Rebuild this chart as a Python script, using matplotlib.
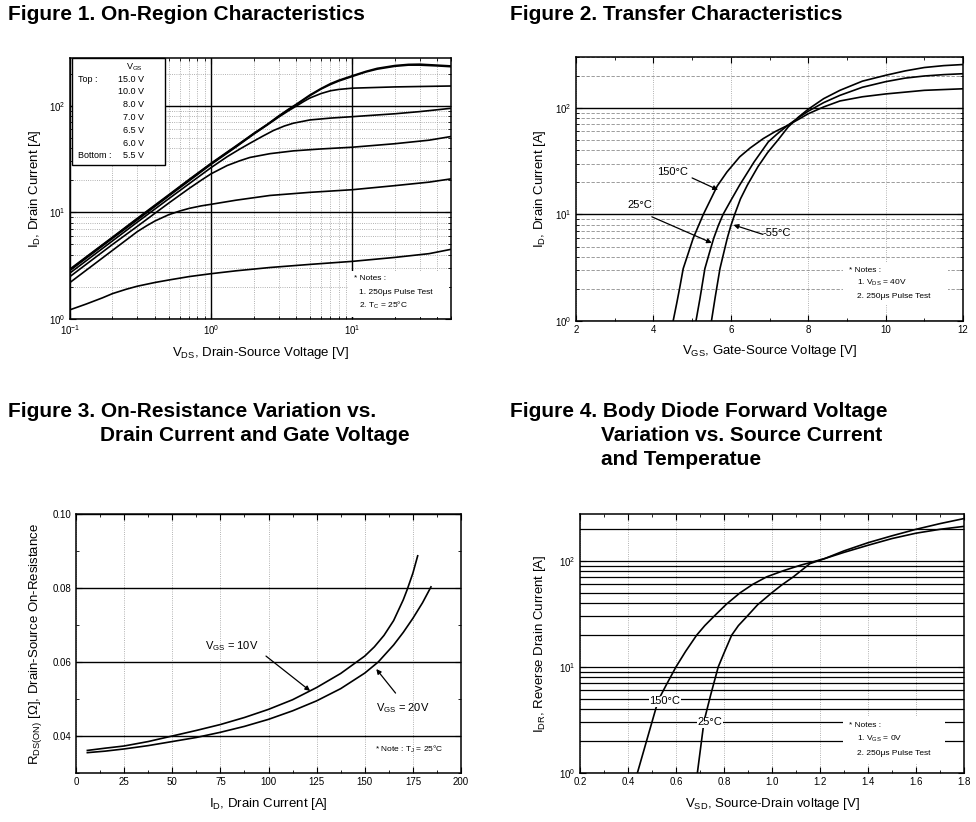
import matplotlib
matplotlib.use("Agg")
import matplotlib.pyplot as plt
from matplotlib.patches import Rectangle
from matplotlib.ticker import MultipleLocator, FormatStrFormatter, NullFormatter

plt.rcParams["font.family"] = ["Liberation Sans", "DejaVu Sans"]
plt.rcParams["mathtext.fontset"] = "custom"
plt.rcParams["mathtext.rm"] = "Liberation Sans"
plt.rcParams["mathtext.it"] = "Liberation Sans:italic"
plt.rcParams["mathtext.bf"] = "Liberation Sans:bold"

# ---------------- Figure 1: on-region (V_DS vs I_D per V_GS)
vds_15 = [0.1, 0.15, 0.2, 0.3, 0.5, 0.7, 1, 1.5, 2, 2.5, 3, 3.5, 4, 5, 6, 7, 8, 10, 12.5, 15, 20, 25, 30, 40, 50]
id_15 = [2.94, 4.4, 5.85, 8.8, 14.6, 20.4, 28.9, 42, 55, 67, 80, 92, 103, 126, 145, 161, 173, 191, 210, 224, 238, 244, 245, 240, 236]
vds_10 = [0.1, 0.15, 0.2, 0.3, 0.5, 0.7, 1, 1.5, 2, 2.5, 3, 3.5, 4, 5, 6, 7, 8, 10, 12.5, 15, 20, 25, 30, 40, 50]
id_10 = [2.9, 4.35, 5.8, 8.7, 14.4, 20.2, 28.6, 41.5, 54.5, 66.5, 79, 91, 102, 124, 143, 158, 170, 188, 207, 220, 234, 240, 240, 236, 232]
vds_8 = [0.1, 0.2, 0.3, 0.5, 0.7, 1, 1.5, 2, 2.5, 3, 3.5, 4, 4.5, 5, 6, 7, 8, 10, 20, 50]
id_8 = [2.85, 5.7, 8.5, 14.2, 19.8, 28.2, 41, 54, 66, 78, 89, 99, 109, 118, 130, 138, 142, 146, 150, 153]
vds_7 = [0.1, 0.2, 0.3, 0.5, 0.7, 1, 1.3, 1.6, 1.88, 2.3, 2.76, 3.3, 3.82, 5, 7, 10, 20, 30, 50]
id_7 = [2.7, 5.4, 8.1, 13.4, 18.6, 26.3, 33.3, 39.3, 44.4, 51.5, 58.5, 64.5, 68.5, 73.5, 76.5, 78.9, 84, 88, 94.5]
vds_65 = [0.1, 0.2, 0.3, 0.5, 0.7, 0.85, 1, 1.3, 1.6, 1.88, 2.61, 3.82, 6, 10, 20, 35, 50]
id_65 = [2.5, 5.0, 7.4, 12.2, 16.8, 20, 23, 27.5, 30.5, 32.7, 35.5, 37.7, 39.3, 40.8, 44, 47.5, 51.4]
vds_6 = [0.1, 0.15, 0.2, 0.25, 0.3, 0.35, 0.4, 0.5, 0.6, 0.7, 0.85, 1, 1.5, 2.61, 5, 10, 20, 35, 50]
id_6 = [2.2, 3.3, 4.4, 5.5, 6.6, 7.5, 8.3, 9.5, 10.3, 10.9, 11.5, 11.9, 13.0, 14.4, 15.4, 16.3, 17.8, 19.2, 20.6]
vds_55 = [0.1, 0.13, 0.17, 0.2, 0.25, 0.3, 0.4, 0.5, 0.7, 1, 1.5, 2.61, 5, 10, 20, 35, 50]
id_55 = [1.22, 1.38, 1.58, 1.73, 1.9, 2.03, 2.2, 2.32, 2.5, 2.66, 2.83, 3.04, 3.25, 3.47, 3.78, 4.1, 4.5]
vgs_names = ["15.0 V", "10.0 V", "8.0 V", "7.0 V", "6.5 V", "6.0 V", "5.5 V"]

# ---------------- Figure 2: transfer (V_GS vs I_D per temperature)
vgs_150 = [4.51, 4.6, 4.68, 4.77, 5.03, 5.29, 5.65, 5.9, 6.23, 6.5, 6.84, 7.15, 7.48, 7.75, 8.0, 8.4, 8.82, 9.4, 10, 11, 12]
id_150 = [1, 1.45, 2.05, 3.1, 6.0, 10, 18.5, 25, 34.7, 42, 51.5, 60, 68.8, 78, 88, 102, 116, 127, 135, 146, 151]
vgs_25 = [5.10, 5.2, 5.33, 5.45, 5.56, 5.68, 5.80, 6.0, 6.23, 6.6, 6.97, 7.2, 7.48, 7.75, 8.0, 8.4, 8.82, 9.4, 10, 10.5, 11, 11.5, 12]
id_25 = [1, 1.6, 3.1, 4.4, 6.0, 7.9, 10, 13.5, 18.9, 31, 48, 57, 68.8, 81, 93, 112, 131, 156, 176, 190, 199, 205, 209]
vgs_m55 = [5.50, 5.6, 5.72, 5.82, 5.91, 6.0, 6.10, 6.25, 6.43, 6.7, 6.95, 7.22, 7.48, 7.75, 8.0, 8.4, 8.82, 9.4, 10, 10.5, 11, 11.5, 12]
id_m55 = [1, 1.7, 3.1, 4.4, 6.0, 7.8, 10, 14, 18.9, 28, 38, 50, 66, 82, 97, 122, 146, 178, 202, 222, 239, 249, 255]

# ---------------- Figure 3: R_DS(on) vs I_D
id_r10 = [5.9, 15, 25, 37.5, 50, 62.5, 75, 87.5, 100, 112.5, 125, 137.5, 150, 155, 160, 165, 170, 172, 175, 177.5]
rds_10 = [0.0361, 0.0367, 0.0373, 0.0385, 0.0400, 0.0415, 0.0431, 0.0450, 0.0472, 0.0498, 0.0531, 0.0569, 0.0616,
          0.0641, 0.0672, 0.0712, 0.0768, 0.0795, 0.0840, 0.0887]
id_r20 = [5.9, 15, 25, 37.5, 50, 62.5, 75, 87.5, 100, 112.5, 125, 137.5, 150, 157, 165, 170, 175, 180, 184.4]
rds_20 = [0.0355, 0.0359, 0.0365, 0.0374, 0.0385, 0.0396, 0.0410, 0.0426, 0.0445, 0.0468, 0.0495, 0.0528, 0.0570,
          0.0600, 0.0646, 0.0680, 0.0718, 0.0760, 0.0803]

# ---------------- Figure 4: body diode (V_SD vs I_DR)
vsd_150 = [0.439, 0.526, 0.56, 0.60, 0.64, 0.686, 0.72, 0.756, 0.81, 0.867, 0.92, 0.978, 1.05, 1.12, 1.158, 1.22,
           1.3, 1.4, 1.5, 1.6, 1.7, 1.8]
idr_150 = [1, 4.85, 6.8, 10, 14, 19.9, 24.5, 29.6, 39, 49.9, 60, 70.6, 81, 91, 96, 105, 120, 140, 162, 182, 198, 211]
vsd_25 = [0.689, 0.717, 0.745, 0.776, 0.80, 0.832, 0.86, 0.894, 0.94, 0.999, 1.04, 1.089, 1.158, 1.22, 1.3, 1.4,
          1.5, 1.6, 1.7, 1.8]
idr_25 = [1, 3.09, 5.5, 10, 13.5, 19.9, 24.5, 29.6, 38.5, 49.9, 59, 70.6, 94, 105, 124, 148, 172, 198, 224, 250]

W, H = 976, 822
fig = plt.figure(figsize=(W / 100, H / 100), dpi=100)


def add_ax(l, t, r, b):
    return fig.add_axes([l / W, 1 - b / H, (r - l) / W, (b - t) / H])


def ftext(x, y, s, **kw):
    kw.setdefault("fontsize", 6)
    kw.setdefault("va", "center")
    return fig.text(x / W, 1 - y / H, s, **kw)


def white_box(l, t, r, b, ec="none"):
    fig.add_artist(Rectangle((l / W, 1 - b / H), (r - l) / W, (b - t) / H,
                             transform=fig.transFigure, fc="white", ec=ec, lw=1.0, zorder=1))


def style(ax):
    ax.tick_params(which="both", direction="in", top=True, right=True, labelsize=7, pad=3)
    ax.tick_params(which="major", length=4)
    ax.tick_params(which="minor", length=2)
    for s in ax.spines.values():
        s.set_linewidth(1.1)


titles = [(8, 5, "Figure 1. On-Region Characteristics"),
          (510, 5, "Figure 2. Transfer Characteristics"),
          (8, 402, "Figure 3. On-Resistance Variation vs."),
          (100, 426, "Drain Current and Gate Voltage"),
          (510, 402, "Figure 4. Body Diode Forward Voltage"),
          (601, 426, "Variation vs. Source Current"),
          (601, 450, "and Temperatue")]
for x, y, s in titles:
    ftext(x, y, s, fontsize=15, fontweight="bold", va="top")

# ---- Figure 1
ax1 = add_ax(70, 58, 451, 319)
for xs, ys in [(vds_15, id_15), (vds_10, id_10), (vds_8, id_8), (vds_7, id_7),
               (vds_65, id_65), (vds_6, id_6), (vds_55, id_55)]:
    ax1.plot(xs, ys, color="black", lw=1.2)
ax1.set_xscale("log")
ax1.set_yscale("log")
ax1.set_xlim(0.1, 50)
ax1.set_ylim(1, 280)
ax1.grid(which="major", color="black", lw=1.0, ls="-")
ax1.grid(which="minor", color="0.6", lw=0.6, ls=":")
ax1.xaxis.set_minor_formatter(NullFormatter())
ax1.yaxis.set_minor_formatter(NullFormatter())
style(ax1)
ax1.set_xlabel(r"V$_\mathrm{DS}$, Drain-Source Voltage [V]", fontsize=9.5)
ax1.set_ylabel(r"I$_\mathrm{D}$, Drain Current [A]", fontsize=9.5)
ax1.xaxis.set_label_coords(0.5, -0.1)
ax1.yaxis.set_label_coords(-0.072, 0.5)

white_box(72, 58, 165, 165, ec="black")
ftext(134, 67, r"V$_\mathrm{GS}$", ha="center", fontsize=6.5)
ftext(78, 79, "Top :", fontsize=6.5)
ftext(78, 156, "Bottom :", fontsize=6.5)
for i, name in enumerate(vgs_names):
    ftext(144, 79 + i * 12.8, name, ha="right", fontsize=6.5)

white_box(348, 271, 449, 317)
ftext(354, 278, "* Notes :")
ftext(359, 292, "1. 250\u03bcs Pulse Test")
ftext(359, 305, r"2. T$_\mathrm{C}$ = 25°C")

# ---- Figure 2
ax2 = add_ax(576, 57, 963, 321)
for xs, ys in [(vgs_150, id_150), (vgs_25, id_25), (vgs_m55, id_m55)]:
    ax2.plot(xs, ys, color="black", lw=1.2)
ax2.set_yscale("log")
ax2.set_xlim(2, 12)
ax2.set_ylim(1, 300)
ax2.xaxis.set_major_locator(MultipleLocator(2))
ax2.xaxis.set_minor_locator(MultipleLocator(1))
ax2.yaxis.set_minor_formatter(NullFormatter())
ax2.grid(axis="y", which="major", color="black", lw=1.0, ls="-")
ax2.grid(axis="y", which="minor", color="0.55", lw=0.6, ls=(0, (4, 2)))
ax2.grid(axis="x", which="major", color="0.6", lw=0.6, ls=":")
style(ax2)
ax2.set_xlabel(r"V$_\mathrm{GS}$, Gate-Source Voltage [V]", fontsize=9.5)
ax2.set_ylabel(r"I$_\mathrm{D}$, Drain Current [A]", fontsize=9.5)
ax2.xaxis.set_label_coords(0.5, -0.083)
ax2.yaxis.set_label_coords(-0.072, 0.5)

arrow = dict(arrowstyle="-|>", color="black", lw=0.9, mutation_scale=7, shrinkA=0, shrinkB=0)
ax2.text(4.5, 25, "150°C", fontsize=8, ha="center", va="center")
ax2.annotate("", xy=(5.67, 17), xytext=(5.0, 22), arrowprops=arrow)
ax2.text(3.65, 12.3, "25°C", fontsize=8, ha="center", va="center")
ax2.annotate("", xy=(5.51, 5.4), xytext=(3.96, 9.5), arrowprops=arrow)
ax2.text(7.2, 6.7, "-55°C", fontsize=8, ha="center", va="center")
ax2.annotate("", xy=(6.07, 7.97), xytext=(6.83, 6.5), arrowprops=arrow)

white_box(843, 262, 948, 304)
ftext(849, 270, "* Notes :")
ftext(857, 283, r"1. V$_\mathrm{DS}$ = 40V")
ftext(857, 296, "2. 250\u03bcs Pulse Test")

# ---- Figure 3
ax3 = add_ax(76, 514, 461, 773)
ax3.plot(id_r10, rds_10, color="black", lw=1.2)
ax3.plot(id_r20, rds_20, color="black", lw=1.2)
ax3.set_xlim(0, 200)
ax3.set_ylim(0.03, 0.10)
ax3.xaxis.set_major_locator(MultipleLocator(25))
ax3.xaxis.set_minor_locator(MultipleLocator(12.5))
ax3.yaxis.set_minor_locator(MultipleLocator(0.01))
ax3.set_yticks([0.04, 0.06, 0.08, 0.10])
ax3.yaxis.set_major_formatter(FormatStrFormatter("%.2f"))
ax3.grid(axis="y", which="major", color="black", lw=1.0, ls="-")
ax3.grid(axis="x", which="major", color="0.6", lw=0.6, ls=":")
style(ax3)
ax3.set_xlabel(r"I$_\mathrm{D}$, Drain Current [A]", fontsize=9.5)
ax3.set_ylabel(r"R$_\mathrm{DS(ON)}$ [$\Omega$], Drain-Source On-Resistance", fontsize=9.5)
ax3.xaxis.set_label_coords(0.5, -0.089)
ax3.yaxis.set_label_coords(-0.083, 0.5)

ax3.text(81, 0.0643, r"V$_\mathrm{GS}$ = 10V", fontsize=8, ha="center", va="center")
ax3.annotate("", xy=(121.6, 0.0522), xytext=(98.7, 0.0616), arrowprops=arrow)
ax3.text(170, 0.0476, r"V$_\mathrm{GS}$ = 20V", fontsize=8, ha="center", va="center")
ax3.annotate("", xy=(156, 0.0581), xytext=(166, 0.0516), arrowprops=arrow)
ax3.text(173, 0.0365, r"* Note : T$_\mathrm{J}$ = 25°C", fontsize=6, ha="center", va="center")

# ---- Figure 4
ax4 = add_ax(580, 514, 964, 773)
ax4.plot(vsd_150, idr_150, color="black", lw=1.2)
ax4.plot(vsd_25, idr_25, color="black", lw=1.2)
ax4.set_yscale("log")
ax4.set_xlim(0.2, 1.8)
ax4.set_ylim(1, 276)
ax4.xaxis.set_major_locator(MultipleLocator(0.2))
ax4.xaxis.set_minor_locator(MultipleLocator(0.1))
ax4.xaxis.set_major_formatter(FormatStrFormatter("%.1f"))
ax4.yaxis.set_minor_formatter(NullFormatter())
ax4.grid(axis="y", which="both", color="black", lw=0.9, ls="-")
ax4.grid(axis="x", which="major", color="0.6", lw=0.6, ls=":")
style(ax4)
ax4.set_xlabel(r"V$_\mathrm{SD}$, Source-Drain voltage [V]", fontsize=9.5)
ax4.set_ylabel(r"I$_\mathrm{DR}$, Reverse Drain Current [A]", fontsize=9.5)
ax4.xaxis.set_label_coords(0.5, -0.089)
ax4.yaxis.set_label_coords(-0.083, 0.5)

lbl_box = dict(fc="white", ec="none", pad=0.3)
ax4.text(0.554, 4.75, "150°C", fontsize=8, ha="center", va="center", bbox=lbl_box, zorder=3)
ax4.text(0.742, 3.0, "25°C", fontsize=8, ha="center", va="center", bbox=lbl_box, zorder=3)

white_box(843, 716, 945, 764)
ftext(849, 725, "* Notes :")
ftext(857, 739, r"1. V$_\mathrm{GS}$ = 0V")
ftext(857, 753, "2. 250\u03bcs Pulse Test")

fig.savefig("out.png", dpi=100, facecolor="white")
